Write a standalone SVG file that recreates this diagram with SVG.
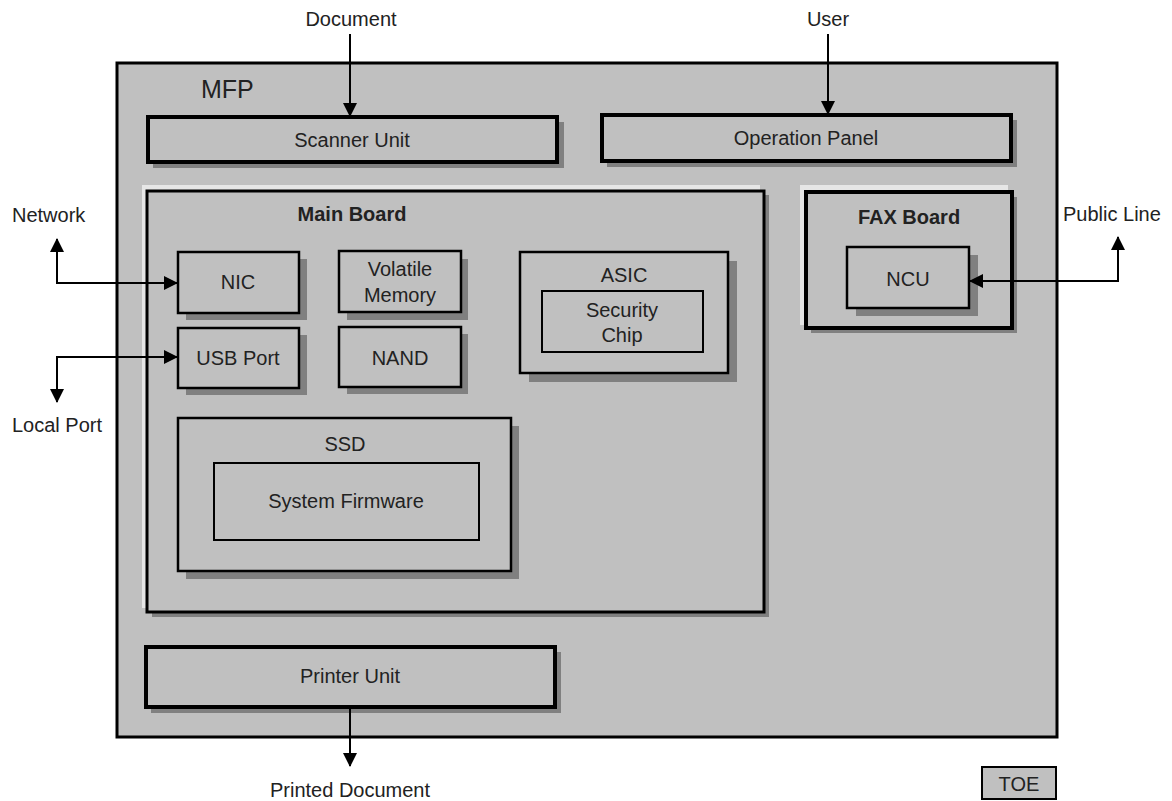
<svg xmlns="http://www.w3.org/2000/svg" width="1172" height="801" viewBox="0 0 1172 801">
<defs>
<marker id="ah" viewBox="0 0 14 14" markerWidth="14" markerHeight="14" markerUnits="userSpaceOnUse" refX="13" refY="7" orient="auto-start-reverse">
<path d="M0,0 L14,7 L0,14 z" fill="#000"/>
</marker>
<style>
text{font-family:"Liberation Sans",Arial,sans-serif;font-size:20px;fill:#222;text-anchor:middle}
.b{font-weight:bold}
.l{text-anchor:start}
.box{fill:#c0c0c0;stroke:#000}
.sh{fill:#808080}
.hl{fill:#e6e6e6}
.thick{stroke-width:4}
.med{stroke-width:3}
.thin{stroke-width:2.5}
.in{fill:none;stroke:#000;stroke-width:2}
.con{fill:none;stroke:#000;stroke-width:2}
</style>
</defs>
<rect width="1172" height="801" fill="#fff"/>
<g id="mfp">
<rect class="box med" x="117" y="63" width="940" height="674"/>
<text class="l" x="201" y="98" style="font-size:25px">MFP</text>
</g>
<g id="scanner">
<rect class="sh" x="153" y="122" width="411" height="46"/>
<rect class="box thick" x="148" y="117" width="409" height="45"/>
<text x="352" y="147">Scanner Unit</text>
</g>
<g id="panel">
<rect class="sh" x="607" y="120" width="410" height="47"/>
<rect class="box thick" x="602" y="115" width="409" height="46"/>
<text x="806" y="145">Operation Panel</text>
</g>
<g id="mainboard">
<rect class="hl" x="142" y="185" width="618" height="423"/>
<rect class="sh" x="152" y="195" width="617" height="422"/>
<rect class="box med" x="147" y="191" width="617" height="421"/>
<text class="b" x="352" y="221">Main Board</text>
</g>
<g id="nic">
<rect class="sh" x="186" y="259" width="121" height="61"/>
<rect class="box thin" x="178" y="252" width="121" height="61"/>
<text x="238" y="289">NIC</text>
</g>
<g id="usb">
<rect class="sh" x="186" y="335" width="121" height="60"/>
<rect class="box thin" x="178" y="328" width="121" height="60"/>
<text x="238" y="365">USB Port</text>
</g>
<g id="volatile">
<rect class="sh" x="347" y="259" width="121" height="61"/>
<rect class="box thin" x="339" y="251" width="122" height="61"/>
<text x="400" y="276">Volatile</text>
<text x="400" y="302">Memory</text>
</g>
<g id="nand">
<rect class="sh" x="347" y="334" width="121" height="60"/>
<rect class="box thin" x="339" y="327" width="122" height="60"/>
<text x="400" y="365">NAND</text>
</g>
<g id="asic">
<rect class="sh" x="529" y="261" width="208" height="121"/>
<rect class="box thin" x="520" y="252" width="208" height="121"/>
<text x="624" y="282">ASIC</text>
<rect class="in" x="542" y="291" width="161" height="61"/>
<text x="622" y="317">Security</text>
<text x="622" y="342">Chip</text>
</g>
<g id="ssd">
<rect class="sh" x="186" y="426" width="333" height="153"/>
<rect class="box thin" x="178" y="418" width="333" height="153"/>
<text x="345" y="451">SSD</text>
<rect class="in" x="214" y="463" width="265" height="77"/>
<text x="346" y="508">System Firmware</text>
</g>
<g id="faxboard">
<rect class="hl" x="800" y="185" width="208" height="140"/>
<rect class="sh" x="811" y="197" width="206" height="136"/>
<rect class="box thick" x="806" y="192" width="206" height="136"/>
<text class="b" x="909" y="224">FAX Board</text>
</g>
<g id="ncu">
<rect class="sh" x="856" y="255" width="122" height="61"/>
<rect class="box thin" x="847" y="247" width="122" height="61"/>
<text x="908" y="286">NCU</text>
</g>
<g id="printer">
<rect class="sh" x="151" y="652" width="410" height="61"/>
<rect class="box thick" x="146" y="647" width="409" height="60"/>
<text x="350" y="683">Printer Unit</text>
</g>
<g id="toe">
<rect class="box" stroke-width="2" x="982" y="767" width="74" height="32"/>
<text x="1019" y="791">TOE</text>
</g>
<g id="labels">
<text x="351" y="26">Document</text>
<text x="828" y="26">User</text>
<text class="l" x="12" y="222">Network</text>
<text class="l" x="12" y="432">Local Port</text>
<text class="l" x="1063" y="221">Public Line</text>
<text x="350" y="797">Printed Document</text>
</g>
<g id="connectors">
<path class="con" d="M350,34 L350,116" marker-end="url(#ah)"/>
<path class="con" d="M828,34 L828,114" marker-end="url(#ah)"/>
<path class="con" d="M57,239 L57,283 L177,283" marker-start="url(#ah)" marker-end="url(#ah)"/>
<path class="con" d="M57,402 L57,357 L177,357" marker-start="url(#ah)" marker-end="url(#ah)"/>
<path class="con" d="M970,281 L1118,281 L1118,237" marker-start="url(#ah)" marker-end="url(#ah)"/>
<path class="con" d="M350,709 L350,766" marker-end="url(#ah)"/>
</g>
</svg>
